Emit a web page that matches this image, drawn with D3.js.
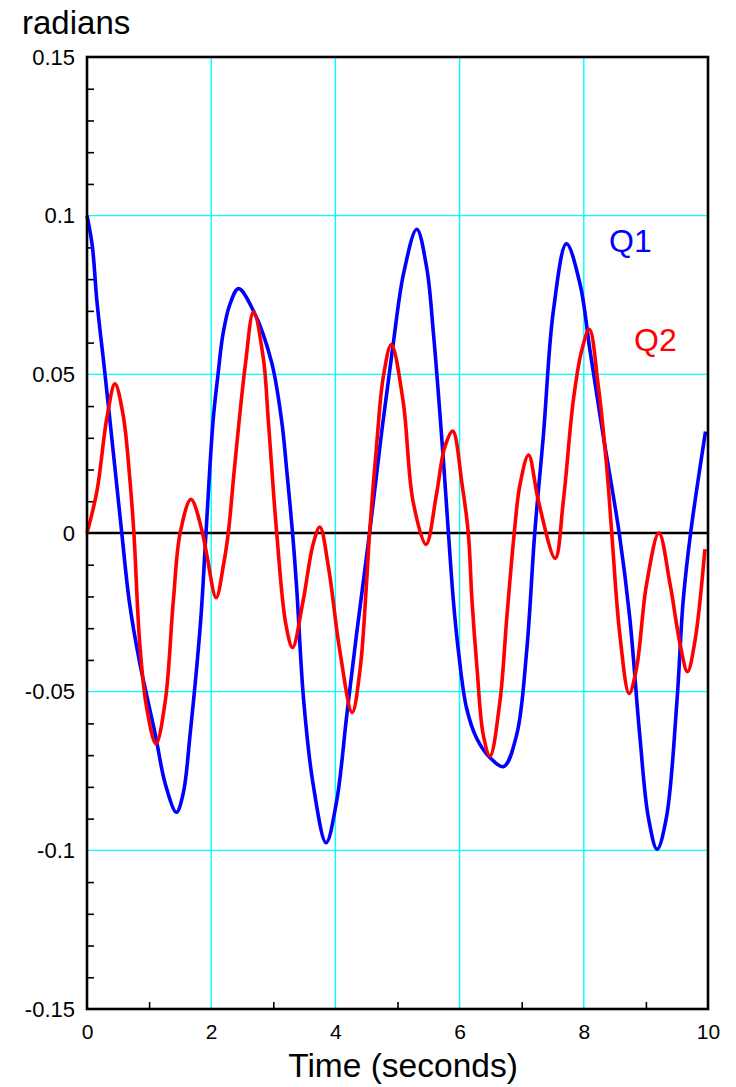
<html>
<script src="https://d3js.org/d3.v7.min.js"></script>
<style>
    body { margin: 0; background: white; }
    text { font-family: "Liberation Sans", Arial, sans-serif; }
</style>
<body>
<svg id="chart" width="736" height="1087"></svg>
<script>
// values
const q1Time = [0, 0.085, 0.16, 0.29, 0.45, 0.56, 0.68, 0.84, 1.10, 1.26, 1.44, 1.55, 1.66, 1.83, 1.916, 2.03, 2.11, 2.19, 2.30, 2.44,
    2.68, 2.97, 3.135, 3.22, 3.31, 3.376, 3.49, 3.64, 3.85, 4.02, 4.18, 4.34, 4.55, 4.74, 4.93, 5.10, 5.31,
    5.47, 5.58, 5.74, 5.82, 5.90, 5.98, 6.11, 6.27, 6.49, 6.71, 6.92, 7.08, 7.21, 7.35, 7.51, 7.72,
    7.94, 8.10, 8.31, 8.57, 8.74, 8.90, 9.04, 9.18, 9.33, 9.50, 9.60, 9.72, 9.96];
const q1Value = [0.100, 0.0905, 0.073, 0.050, 0.0205, 0, -0.0214, -0.040, -0.0635, -0.079, -0.088, -0.082, -0.0635, -0.0277, 0, 0.0353, 0.050, 0.0627, 0.072, 0.077,
    0.070, 0.054, 0.0353, 0.019, 0, -0.0172, -0.053, -0.079, -0.0976, -0.0845, -0.058, -0.032, 0, 0.031, 0.0595, 0.082, 0.0957,
    0.0836, 0.0626, 0.0227, 0, -0.0214, -0.037, -0.055, -0.0645, -0.0708, -0.0736, -0.0635, -0.0372, 0, 0.031, 0.070, 0.0912,
    0.0784, 0.0574, 0.031, 0, -0.0267, -0.0635, -0.0897, -0.0997, -0.0897, -0.053, -0.0214, 0, 0.032];

const q2Time = [0, 0.16, 0.32, 0.45, 0.58, 0.69, 0.755, 0.85, 0.96, 1.11, 1.26, 1.39, 1.50, 1.675, 1.86, 1.93, 2.08, 2.20, 2.275,
    2.37, 2.45, 2.55, 2.68, 2.84, 2.92, 3.055, 3.20, 3.31, 3.48, 3.64, 3.75, 3.89, 4.07, 4.27, 4.40, 4.50, 4.55,
    4.665, 4.77, 4.90, 5.09, 5.25, 5.46, 5.63, 5.76, 5.89, 6.04, 6.14, 6.20, 6.28, 6.38, 6.49, 6.65, 6.76, 6.88,
    6.97, 7.11, 7.27, 7.54, 7.67, 7.83, 7.96, 8.09, 8.23, 8.37, 8.45, 8.58, 8.73, 8.85, 9.01, 9.21, 9.39,
    9.55, 9.67, 9.79, 9.95];
const q2Value = [0, 0.0132, 0.0363, 0.047, 0.0374, 0.017, 0, -0.035, -0.055, -0.0664, -0.053, -0.0214, 0, 0.0106, 0, -0.007, -0.0204, -0.0098, 0,
    0.0195, 0.0353, 0.053, 0.0697, 0.055, 0.0353, 0, -0.0285, -0.0361, -0.0214, -0.0036, 0.0019, -0.011, -0.037, -0.0566, -0.0425, -0.0162, 0,
    0.028, 0.049, 0.0594, 0.0416, 0.010, -0.0036, 0.0125, 0.027, 0.0321, 0.0153, 0, -0.0214, -0.0425, -0.0635, -0.0703, -0.053, -0.0267, 0,
    0.015, 0.0246, 0.010, -0.008, 0.010, 0.0416, 0.057, 0.0642, 0.0469, 0.0206, 0, -0.032, -0.0506, -0.0425, -0.0162, 0, -0.0162,
    -0.035, -0.0437, -0.034, -0.0051];

const xTicks = [0, 2, 4, 6, 8, 10];
const xMinorTicks = [1, 3, 5, 7, 9];
const yTicks = [-0.15, -0.1, -0.05, 0, 0.05, 0.1, 0.15];
const yTickLabels = ["-0.15", "-0.1", "-0.05", "0", "0.05", "0.1", "0.15"];
const yMinorTicks = [-0.14, -0.13, -0.12, -0.11, -0.09, -0.08, -0.07, -0.06, -0.04, -0.03, -0.02, -0.01,
    0.01, 0.02, 0.03, 0.04, 0.06, 0.07, 0.08, 0.09, 0.11, 0.12, 0.13, 0.14];

const plotLeft = 87, plotRight = 708, plotTop = 57, plotBottom = 1009;
const svg = d3.select("#chart");
const x = d3.scaleLinear().domain([0, 10]).range([plotLeft, plotRight]);
const y = d3.scaleLinear().domain([-0.15, 0.15]).range([plotBottom, plotTop]);

// cyan grid
svg.append("g").selectAll("line").data(xTicks.slice(1, -1)).enter().append("line")
    .attr("x1", d => x(d)).attr("x2", d => x(d)).attr("y1", plotTop).attr("y2", plotBottom)
    .attr("stroke", "#00ffff").attr("stroke-width", 1.4);
svg.append("g").selectAll("line").data(yTicks.filter(d => d !== 0 && Math.abs(d) < 0.15)).enter().append("line")
    .attr("x1", plotLeft).attr("x2", plotRight).attr("y1", d => y(d)).attr("y2", d => y(d))
    .attr("stroke", "#00ffff").attr("stroke-width", 1.4);

// zero line
svg.append("line").attr("x1", plotLeft).attr("x2", plotRight).attr("y1", y(0)).attr("y2", y(0))
    .attr("stroke", "black").attr("stroke-width", 2.4);

// minor ticks
svg.append("g").attr("transform", `translate(${plotLeft},0)`)
    .call(d3.axisRight(y).tickValues(yMinorTicks).tickSize(7).tickFormat(""))
    .call(g => g.select(".domain").remove())
    .selectAll("line").attr("stroke-width", 1.6);
svg.append("g").attr("transform", `translate(0,${plotBottom})`)
    .call(d3.axisTop(x).tickValues(xMinorTicks).tickSize(7).tickFormat(""))
    .call(g => g.select(".domain").remove())
    .selectAll("line").attr("stroke-width", 1.6);

// curves
const line = d3.line().curve(d3.curveCatmullRom.alpha(0.5)).x(d => x(d[0])).y(d => y(d[1]));
svg.append("path").datum(q1Time.map((t, i) => [t, q1Value[i]]))
    .attr("fill", "none").attr("stroke", "#0000ff").attr("stroke-width", 3.6).attr("d", line);
svg.append("path").datum(q2Time.map((t, i) => [t, q2Value[i]]))
    .attr("fill", "none").attr("stroke", "#ff0000").attr("stroke-width", 3.6).attr("d", line);

// frame
svg.append("rect").attr("x", plotLeft).attr("y", plotTop).attr("width", plotRight - plotLeft).attr("height", plotBottom - plotTop)
    .attr("fill", "none").attr("stroke", "black").attr("stroke-width", 2.6);

// tick labels
svg.append("g").attr("transform", `translate(${plotLeft},0)`)
    .call(d3.axisLeft(y).tickValues(yTicks).tickSize(0).tickPadding(12).tickFormat((d, i) => yTickLabels[i]))
    .call(g => g.select(".domain").remove())
    .selectAll("text").attr("font-size", 22).attr("font-family", "Liberation Sans, Arial, sans-serif").attr("fill", "black");
svg.append("g").attr("transform", `translate(0,${plotBottom})`)
    .call(d3.axisBottom(x).tickValues(xTicks).tickSize(0).tickPadding(15))
    .call(g => g.select(".domain").remove())
    .selectAll("text").attr("font-size", 21).attr("font-family", "Liberation Sans, Arial, sans-serif").attr("fill", "black");

// titles and labels
svg.append("text").attr("x", 22).attr("y", 34).attr("font-size", 33).text("radians");
svg.append("text").attr("x", 403).attr("y", 1077).attr("text-anchor", "middle").attr("font-size", 33.5).text("Time (seconds)");
svg.append("text").attr("x", 609).attr("y", 252).attr("font-size", 32).attr("fill", "#0000ff").text("Q1");
svg.append("text").attr("x", 634).attr("y", 351).attr("font-size", 32).attr("fill", "#ff0000").text("Q2");
</script>
</body>
</html>
